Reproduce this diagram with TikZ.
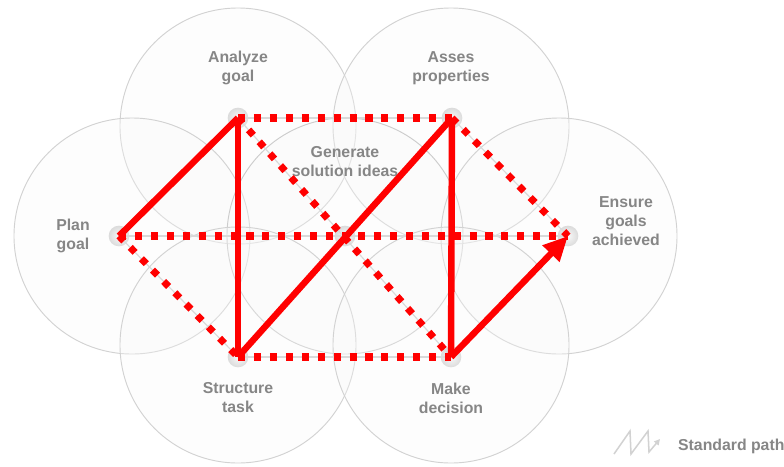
\documentclass[tikz,border=0pt]{standalone}
\usepackage{fontspec}
\setmainfont{Liberation Sans}
\usetikzlibrary{arrows.meta}
\definecolor{ringgray}{HTML}{D2D2D2}
\definecolor{labelgray}{HTML}{868686}
\definecolor{pathred}{HTML}{FF0000}

\begin{document}
\begin{tikzpicture}[x=0.03cm, y=-0.03cm,
  ring/.style={circle, draw=ringgray, line width=0.8pt, fill=gray!6, fill opacity=0.3, minimum size=7.08cm, inner sep=0pt},
  dot/.style={circle, inner sep=0pt, minimum size=0.62cm, inner color=gray!5, outer color=gray!28},
  label/.style={text=labelgray, font=\fontsize{13.5}{16.2}\selectfont\bfseries, align=center},
  guide/.style={draw=gray!30, line width=1pt},
  solid path/.style={draw=pathred, line width=5.5pt, line join=miter},
  option path/.style={draw=pathred, line width=6pt, dash pattern=on 6pt off 7.6pt}]

  \useasboundingbox (0,0) rectangle (784,466);

  % Circles
  \node[ring] (C1) at (238,126) {};
  \node[ring] (C2) at (451,126) {};
  \node[ring] (C3) at (132,236) {};
  \node[ring, draw=gray!40] (C4) at (345,236) {};
  \node[ring] (C5) at (559,236) {};
  \node[ring] (C6) at (238,345) {};
  \node[ring] (C7) at (451,345) {};

  % Dots
  \node[dot] (D1) at (119,236) {};
  \node[dot] (D2) at (238,118) {};
  \node[dot] (D3) at (452,118) {};
  \node[dot] (D4) at (568,236) {};
  \node[dot] (D5) at (238,357) {};
  \node[dot] (D6) at (451,357) {};
  \node[dot] (D7) at (345,236) {};

  % Labels
  \node[label] (L1) at (73,236) {Plan\\goal};
  \node[label] (L2) at (238,68) {Analyze\\goal};
  \node[label] (L3) at (451,68) {Asses\\properties};
  \node[label] (L4) at (626,221) {Ensure\\goals\\achieved};
  \node[label] (L5) at (238,398) {Structure\\task};
  \node[label] (L6) at (451,398) {Make\\decision};
  \node[label] (L7) at (345,162) {Generate\\solution ideas};

  % Grey guides
  \draw[guide] (D2.center) -- (D3.center);
  \draw[guide] (D1.center) -- (D4.center);
  \draw[guide] (D5.center) -- (D6.center);
  \draw[guide] (D1.center) -- (D5.center);
  \draw[guide] (D2.center) -- (D6.center);
  \draw[guide] (D3.center) -- (D4.center);

  % Dotted paths
  \draw[option path] (D2.center) -- (D3.center);
  \draw[option path] (D1.center) -- (D4.center);
  \draw[option path] (D5.center) -- (D6.center);
  \draw[option path] (D1.center) -- (D5.center);
  \draw[option path] (D2.center) -- (D6.center);
  \draw[option path] (D3.center) -- (D4.center);

  % Standard path
  \draw[solid path] (D1.center) -- (D2.center);
  \draw[solid path] (D2.center) -- (D5.center);
  \draw[solid path] (D5.center) -- (D3.center);
  \draw[solid path] (D3.center) -- (D6.center);
  \draw[solid path, -{Triangle[length=21pt, width=19pt]}] (D6.center) -- (D4.center);

  % Legend
  \draw[gray!35, line width=1.3pt, line join=miter, -{Triangle[length=5pt, width=5pt]}]
    (614,454) -- (630,431) -- (631,454) -- (648,431) -- (649,452) -- (660,439);
  \node[label, anchor=west] (L8) at (674,446) {Standard path};

\end{tikzpicture}
\end{document}
